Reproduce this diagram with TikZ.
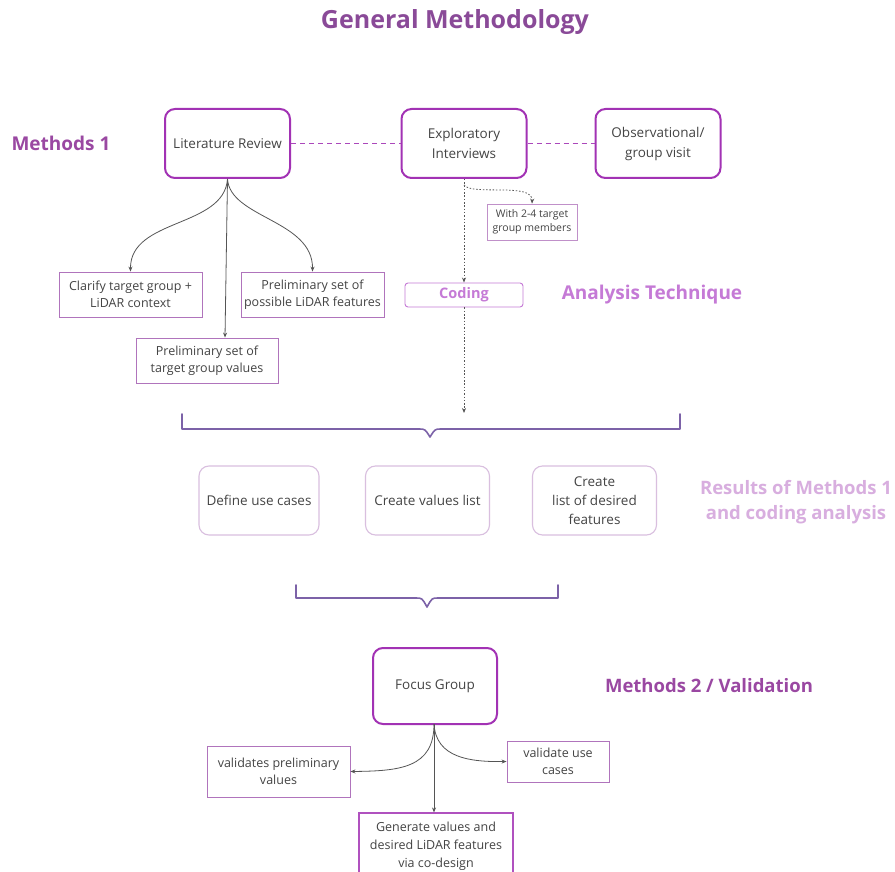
\documentclass[tikz,border=0pt]{standalone}
\usepackage{fontspec}
\setmainfont{Open Sans}
\usetikzlibrary{arrows.meta,calc}
\definecolor{ttl}{HTML}{8A4A98}
\definecolor{mth}{HTML}{9A48A2}
\definecolor{boxc}{HTML}{A232B4}
\definecolor{subc}{HTML}{B074BC}
\definecolor{codec}{HTML}{C57AD6}
\definecolor{resc}{HTML}{D9BFDF}
\definecolor{restx}{HTML}{D8AEDF}
\definecolor{brc}{HTML}{7C62A8}
\definecolor{txt}{HTML}{444444}
\definecolor{arr}{HTML}{555555}
\begin{document}
\begin{tikzpicture}[x=1pt,y=-1pt,
  mainbox/.style={draw=boxc, line width=2pt, rounded corners=10pt, minimum width=125pt, minimum height=69pt, align=center, text=txt, font=\fontsize{13.5}{20}\selectfont},
  subbox/.style={draw=subc, line width=0.9pt, align=center, text=txt, inner sep=0pt, font=\fontsize{12.5}{17}\selectfont},
  resbox/.style={draw=resc, line width=1.1pt, rounded corners=10pt, minimum width=124pt, minimum height=69pt, align=center, text=txt, font=\fontsize{13.5}{19}\selectfont},
  head/.style={font=\fontsize{19}{22}\selectfont\bfseries, text=mth},
  conn/.style={draw=arr, line width=0.8pt, -{Stealth[length=5pt,width=4pt]}},
  dotconn/.style={draw=arr, line width=0.8pt, dash pattern=on 1.5pt off 1.8pt, -{Stealth[length=5pt,width=4pt]}},
  dashline/.style={draw=boxc!90, line width=1.3pt, dash pattern=on 5pt off 4pt},
  bracec/.style={draw=brc, line width=1.6pt, line cap=round, line join=round}
]
\useasboundingbox[fill=white] (0,0) rectangle (895,872);

% title
\node[font=\fontsize{25}{28}\selectfont\bfseries, text=ttl] (title) at (455,22) {General Methodology};

% headings
\node[head] (m1) at (61,143) {Methods 1};
\node[head, text=codec] (at) at (652,295) {Analysis Technique};
\node[head, text=restx, align=center, font=\fontsize{18.5}{25}\selectfont\bfseries] (res) at (796,502) {Results of Methods 1\\and coding analysis};
\node[head, font=\fontsize{18.5}{22}\selectfont\bfseries] (m2) at (709,686) {Methods 2 / Validation};

% main boxes
\node[mainbox] (lr) at (227.5,143.5) {Literature Review};
\node[mainbox] (ei) at (464,143.5) {Exploratory\\Interviews};
\node[mainbox] (ov) at (658,143.5) {Observational/\\group visit};
\draw[dashline] (lr.east) -- (ei.west);
\draw[dashline] (ei.east) -- (ov.west);

% literature sub-boxes
\node[subbox, minimum width=143pt, minimum height=45pt] (cl) at (130.5,294.5) {Clarify target group +\\LiDAR context};
\node[subbox, minimum width=143pt, minimum height=45pt] (pf) at (312.5,294.5) {Preliminary set of\\possible LiDAR features};
\node[subbox, minimum width=142pt, minimum height=45pt] (pv) at (207,360.5) {Preliminary set of\\target group values};

\draw[conn] (lr.south) .. controls (224,228) and (130,218) .. (cl.north);
\draw[conn] (lr.south) .. controls (230,218) and (313,220) .. (pf.north);
\coordinate (pvin) at ($(pv.north)+(18,0)$);
\draw[conn] (lr.south) -- (pvin);

% exploratory
\node[subbox, draw=subc!80, line width=0.7pt, minimum width=90pt, minimum height=36pt, font=\fontsize{10.5}{14}\selectfont] (w24) at (532,222) {With 2-4 target\\group members};
\coordinate (eis) at ($(ei.south)+(0,6)$);
\draw[dotconn] (eis) .. controls (472,196) and (533,182) .. (w24.north);
\node[draw=codec, line width=0.9pt, rounded corners=3pt, minimum width=118pt, minimum height=24pt, inner sep=0pt, text=codec, font=\fontsize{14.5}{16}\selectfont\bfseries] (cod) at (464,295) {Coding};
\draw[dotconn] (ei.south) -- (cod.north);
\coordinate (b1in) at (464,413);
\draw[dotconn] (cod.south) -- (b1in);

% brace 1
\coordinate (b1l) at (182,414);
\coordinate (b1r) at (680,414);
\coordinate (b1tip) at (430,437);
\draw[bracec] (b1l) -- (182,429) -- (419,429) .. controls (425,429) .. (b1tip) .. controls (435,429) .. (441,429) -- (680,429) -- (b1r);

% results boxes
\node[resbox, minimum width=120pt] (uc) at (259,500.5) {Define use cases};
\node[resbox] (vl) at (427.5,500.5) {Create values list};
\node[resbox] (df) at (594.5,500.5) {Create\\list of desired\\features};

% brace 2
\coordinate (b2l) at (296,585);
\coordinate (b2r) at (558,585);
\coordinate (b2tip) at (427,607);
\draw[bracec] (b2l) -- (296,598) -- (416,598) .. controls (422,598) .. (b2tip) .. controls (432,598) .. (438,598) -- (558,598) -- (b2r);

% focus group
\node[mainbox, minimum width=124pt, minimum height=76pt] (fg) at (435,686) {Focus Group};
\node[subbox, minimum width=143pt, minimum height=51pt] (vp) at (278.5,771.5) {validates preliminary\\values};
\node[subbox, minimum width=102pt, minimum height=41pt] (vu) at (558,761.5) {validate use\\cases};
\node[subbox, line width=1.1pt, draw=boxc!85, minimum width=154pt, minimum height=67pt, font=\fontsize{12.5}{18}\selectfont] (gv) at (436,846.5) {Generate values and\\desired LiDAR features\\via co-design};

\coordinate (fgs) at (434,724);
\draw[conn] (fgs) .. controls (434,768) and (400,771) .. (vp.east);
\draw[conn] (fgs) .. controls (436,758) and (470,762) .. (vu.west);
\draw[conn] (fgs) -- (gv.north -| fgs);
\end{tikzpicture}
\end{document}
